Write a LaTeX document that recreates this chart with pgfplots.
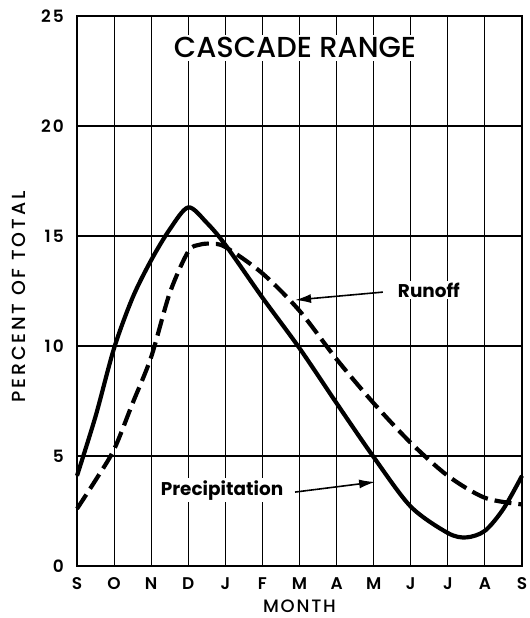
\documentclass[border=0pt]{standalone}
\usepackage{fontspec}
\setmainfont{Poppins}
\newfontfamily\popmed{Poppins Medium}
\newfontfamily\popsemi{Poppins SemiBold}
\usepackage{pgfplots}
\pgfplotsset{compat=1.18}
\usetikzlibrary{arrows.meta}
\begin{document}
\begin{tikzpicture}
\begin{axis}[
  name=ax,
  scale only axis,
  width=445bp, height=550bp,
  xmin=0, xmax=12, ymin=0, ymax=25,
  xtick={0,...,12},
  xticklabels={S,O,N,D,J,F,M,A,M,J,J,A,S},
  ytick={0,5,10,15,20,25},
  grid=major,
  major grid style={black, line width=1.1pt},
  major tick length=0pt,
  axis line style={black, line width=1.8pt},
  /pgf/number format/assume math mode=true,
  xticklabel style={font=\fontsize{17}{17}\popsemi, anchor=north, inner sep=0pt, yshift=-11bp},
  yticklabel style={font=\fontsize{17}{17}\popsemi\addfontfeatures{LetterSpace=12}, anchor=east, inner sep=0pt, xshift=-13bp},
  xlabel={MONTH},
  ylabel={PERCENT OF TOTAL},
  every axis x label/.style={at={(axis description cs:0.5,0)}, yshift=-40bp, anchor=center, font=\fontsize{18}{18}\popmed\addfontfeatures{LetterSpace=10}},
  every axis y label/.style={at={(axis description cs:0,0.5)}, xshift=-58bp, yshift=-6bp, rotate=90, anchor=center, font=\fontsize{19}{19}\popmed\addfontfeatures{LetterSpace=15}},
  clip=false,
]
\addplot[black, line width=4.2pt, smooth, tension=0.5] coordinates {
(0,4.1) (0.5,6.8) (1,9.9) (1.5,12.2) (2,13.9) (2.5,15.3) (3,16.3) (3.5,15.6) (4,14.6) (5,12.2) (6,9.9) (7,7.4) (8,4.95) (9,2.7) (10,1.5) (10.5,1.3) (11,1.6) (11.5,2.6) (12,4.1)
};
\addplot[black, line width=4.2pt, smooth, tension=0.5, dash pattern=on 17bp off 7bp] coordinates {
(0,2.6) (0.5,3.9) (1,5.3) (1.5,7.4) (2,9.5) (2.5,12.4) (3,14.3) (3.3,14.6) (3.6,14.65) (4,14.5) (5,13.3) (6,11.6) (7,9.4) (8,7.4) (9,5.6) (10,4.1) (11,3.1) (12,2.8)
};
\node[font=\fontsize{29}{29}\popmed, fill=white, inner sep=3bp] at (axis cs:5.88,23.55) {CASCADE RANGE};
\node[font=\fontsize{18.5}{18.5}\selectfont\bfseries, fill=white, inner sep=2bp] at (axis cs:9.49,12.55) {Runoff};
\node[font=\fontsize{18.5}{18.5}\selectfont\bfseries, fill=white, inner sep=2bp] at (axis cs:3.91,3.45) {Precipitation};
\draw[line width=1.6pt, -{Latex[length=16bp,width=9bp]}] (axis cs:8.25,12.45) -- (axis cs:5.88,12.09);
\draw[line width=1.6pt, -{Latex[length=16bp,width=9bp]}] (axis cs:5.88,3.36) -- (axis cs:8.04,3.82);
\end{axis}
\pgfresetboundingbox
\path[use as bounding box] ([xshift=-77bp,yshift=-52bp]ax.south west) rectangle ([xshift=8bp,yshift=16bp]ax.north east);
\end{tikzpicture}
\end{document}
